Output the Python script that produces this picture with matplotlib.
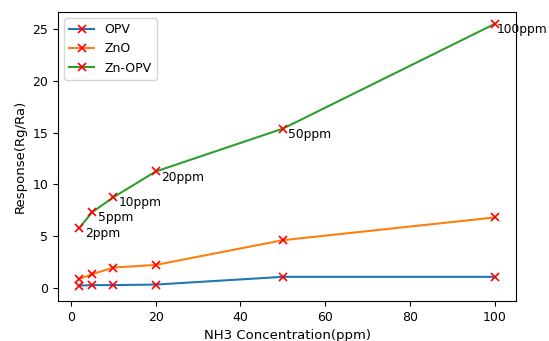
import matplotlib
matplotlib.use("Agg")
import matplotlib.pyplot as plt

conc = [2, 5, 10, 20, 50, 100]
opv = [0.2, 0.25, 0.25, 0.3, 1.05, 1.05]
zno = [0.85, 1.3, 1.95, 2.2, 4.6, 6.8]
zn_opv = [5.8, 7.3, 8.75, 11.25, 15.4, 25.55]
ppm_labels = ['2ppm', '5ppm', '10ppm', '20ppm', '50ppm', '100ppm']

plt.rcParams['font.size'] = 9

fig = plt.figure(figsize=(5.49, 3.41), dpi=100)
ax = fig.add_axes([0.106, 0.117, 0.834, 0.848])

for y, lab in ((opv, 'OPV'), (zno, 'ZnO'), (zn_opv, 'Zn-OPV')):
    ax.plot(conc, y, label=lab, lw=1.5, marker='x', mec='red', mfc='red',
            ms=6, mew=1.2)

for x, y, t in zip(conc, zn_opv, ppm_labels):
    dx = 1.5 if t == '100ppm' else 4
    ax.annotate(t, (x, y), xytext=(dx, -4), textcoords='offset points',
                ha='left', va='center', fontsize=8.8)

ax.set_xlabel('NH3 Concentration(ppm)', fontsize=9.5)
ax.set_ylabel('Response(Rg/Ra)', fontsize=9.5)
ax.set_xlim(-3, 105)
ax.set_ylim(-1.3, 26.7)
ax.legend(loc='upper left')

fig.savefig('out.png', dpi=100)
